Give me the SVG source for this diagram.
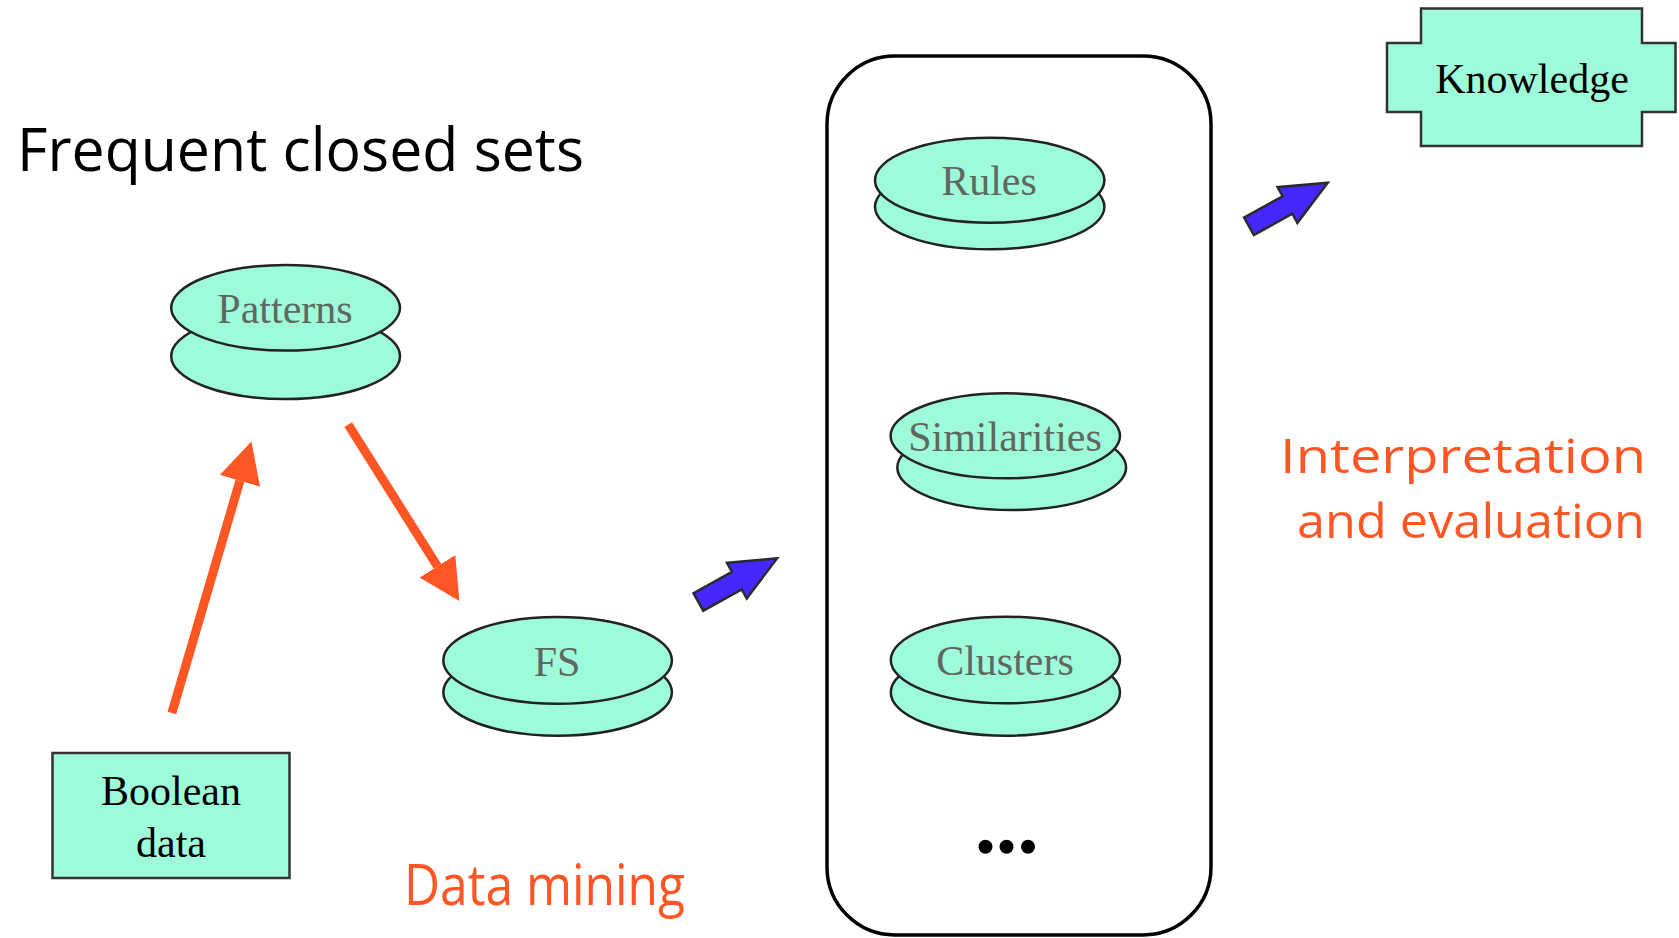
<svg xmlns="http://www.w3.org/2000/svg" width="1679" height="938" viewBox="0 0 1679 938">
  <style>
    .disk { fill: #9efbda; stroke: #222; stroke-width: 2.5; }
    .box { fill: #9efbda; stroke: #333; stroke-width: 2.5; }
    .dlabel { font-family: "Liberation Serif", "Times New Roman", serif; font-size: 42px; fill: #5f675f; text-anchor: middle; }
    .blabel { font-family: "Liberation Serif", "Times New Roman", serif; font-size: 42px; fill: #000; text-anchor: middle; }
    .hand { font-family: "Open Sans", "DejaVu Sans", sans-serif; }
    .orange { stroke: #ff5624; stroke-width: 9; fill: none; }
    .block { fill: #4527ff; stroke: #2b2b2b; stroke-width: 2.5; stroke-linejoin: miter; }
  </style>
  <defs>
    <marker id="head" markerUnits="userSpaceOnUse" viewBox="0 -21 41 42" refX="0" refY="0" markerWidth="41" markerHeight="42" orient="auto">
      <path d="M0,-21 L41,0 L0,21 Z" fill="#ff5624"/>
    </marker>
    <!-- wide block arrow, tip at origin, pointing along +x -->
    <polygon id="fat-arrow" class="block" points="0,0 -46,-20.4 -46,-10 -90,-10 -90,10 -46,10 -46,20.4"/>
  </defs>

  <rect width="1679" height="938" fill="#fff"/>

  <!-- headings -->
  <text class="hand" x="17" y="171" font-size="60" textLength="567" lengthAdjust="spacingAndGlyphs" fill="#000">Frequent closed sets</text>
  <text class="hand" x="404" y="905" font-size="56" textLength="281" lengthAdjust="spacingAndGlyphs" fill="#ff5624">Data mining</text>
  <text class="hand" font-size="47" fill="#ff5624">
    <tspan x="1280" y="473" textLength="366" lengthAdjust="spacingAndGlyphs">Interpretation</tspan>
    <tspan x="1297" y="538" textLength="348" lengthAdjust="spacingAndGlyphs">and evaluation</tspan>
  </text>

  <!-- result container -->
  <g id="results">
    <rect x="827" y="56" width="384" height="879" rx="68" ry="68" fill="#fff" stroke="#000" stroke-width="3.5"/>
    <circle cx="985.5" cy="846.7" r="7" fill="#000"/>
    <circle cx="1006.5" cy="846.7" r="7" fill="#000"/>
    <circle cx="1028" cy="846.7" r="7" fill="#000"/>
  </g>

  <g id="boolean-data">
    <rect class="box" x="52.5" y="753" width="237" height="125"/>
    <text class="blabel" x="171" y="805">Boolean</text>
    <text class="blabel" x="171" y="857">data</text>
  </g>

  <g id="patterns">
    <ellipse class="disk" cx="285.6" cy="356.2" rx="114.4" ry="42.8"/>
    <ellipse class="disk" cx="285.6" cy="307.8" rx="114.4" ry="42.8"/>
    <text class="dlabel" x="285" y="322.7">Patterns</text>
  </g>

  <g id="fs">
    <ellipse class="disk" cx="557.6" cy="692.3" rx="114.3" ry="43.4"/>
    <ellipse class="disk" cx="557.6" cy="660.4" rx="114.3" ry="43.4"/>
    <text class="dlabel" x="557" y="675.7">FS</text>
  </g>

  <g id="rules">
    <ellipse class="disk" cx="989.7" cy="206.8" rx="114.7" ry="42.5"/>
    <ellipse class="disk" cx="989.7" cy="180.2" rx="114.7" ry="42.5"/>
    <text class="dlabel" x="989" y="195">Rules</text>
  </g>

  <g id="similarities">
    <ellipse class="disk" cx="1011.7" cy="467.5" rx="114.4" ry="42.5"/>
    <ellipse class="disk" cx="1005.3" cy="435.8" rx="114.7" ry="42.5"/>
    <text class="dlabel" x="1005" y="450.7">Similarities</text>
  </g>

  <g id="clusters">
    <ellipse class="disk" cx="1005.4" cy="692.4" rx="114.6" ry="43.3"/>
    <ellipse class="disk" cx="1005.4" cy="660" rx="114.6" ry="43.3"/>
    <text class="dlabel" x="1005" y="675">Clusters</text>
  </g>

  <g id="knowledge">
    <path class="box" d="M1421,8.5 H1642 V43 H1675.5 V112 H1642 V146 H1421 V112 H1387 V43 H1421 Z"/>
    <text class="blabel" x="1532" y="93">Knowledge</text>
  </g>

  <g id="connectors">
    <line class="orange" x1="171.9" y1="713.1" x2="239.9" y2="480.8" marker-end="url(#head)"/>
    <line class="orange" x1="348.2" y1="424.7" x2="437.5" y2="566.3" marker-end="url(#head)"/>
    <use href="#fat-arrow" transform="translate(777.1,558.3) rotate(-29)"/>
    <use href="#fat-arrow" transform="translate(1327.7,182.7) rotate(-29)"/>
  </g>
</svg>
